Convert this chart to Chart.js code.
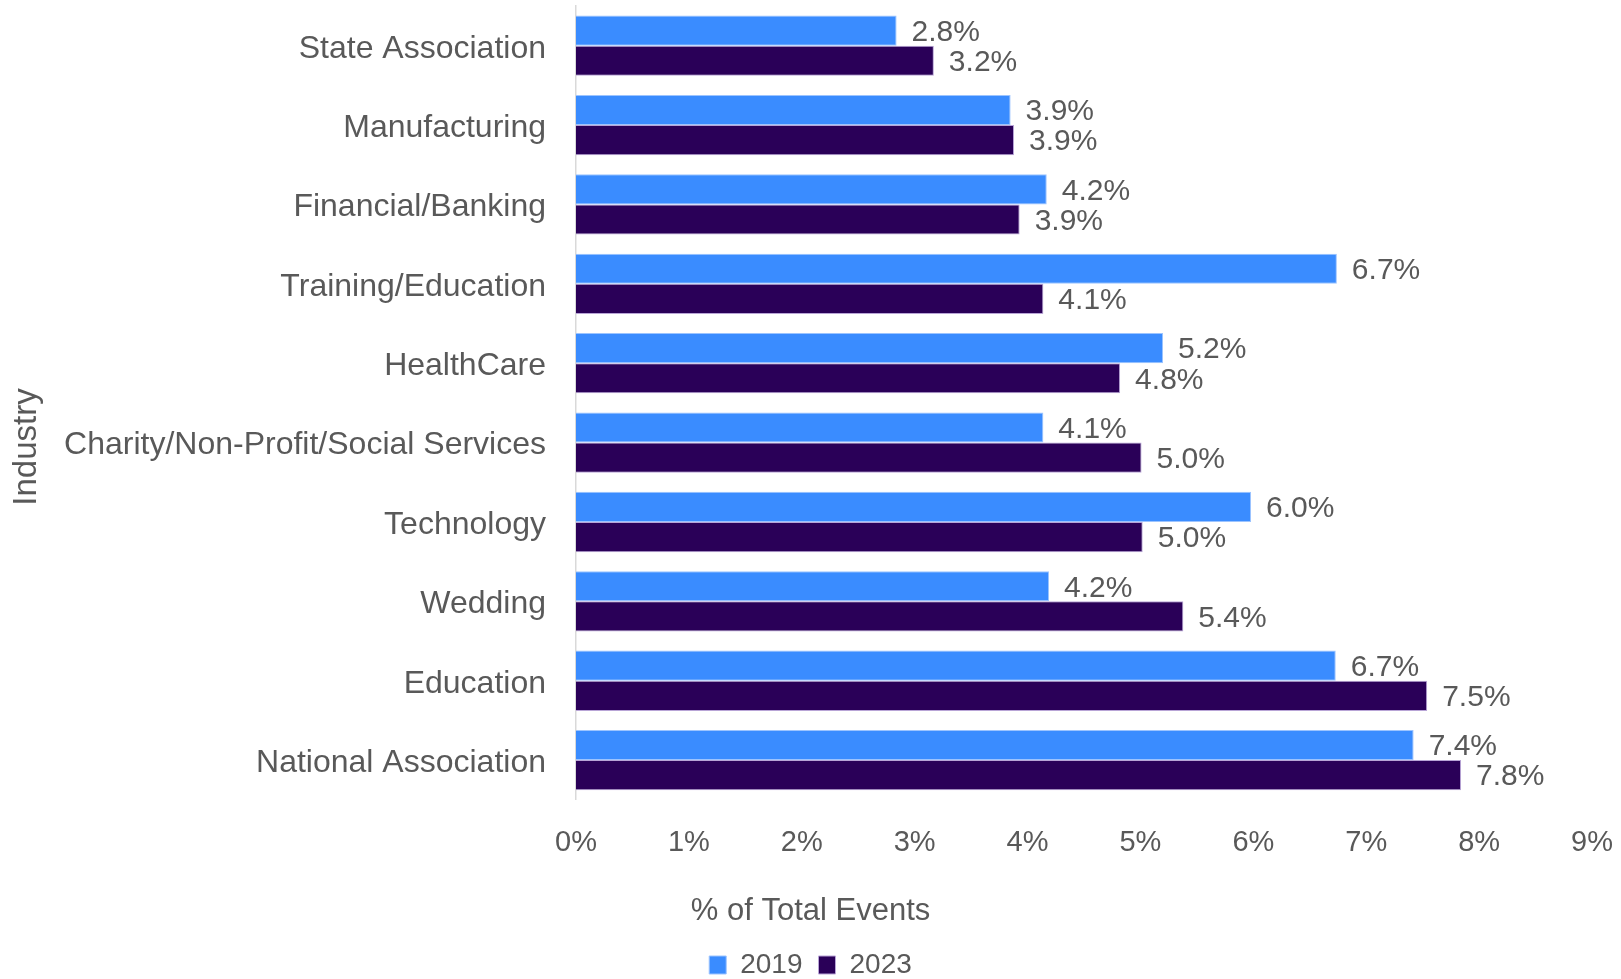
<!DOCTYPE html>
<html>
<head>
<meta charset="utf-8">
<title>Share of total events by industry</title>
<script src="https://cdn.jsdelivr.net/npm/chart.js@4/dist/chart.umd.min.js"></script>
<style>
  html, body { margin: 0; padding: 0; background: #fff; }
</style>
</head>
<body>
<canvas id="chart" width="1621" height="979"></canvas>
<script>
/* =============== Data =============== */
const industries = [
  "State Association",
  "Manufacturing",
  "Financial/Banking",
  "Training/Education",
  "HealthCare",
  "Charity/Non-Profit/Social Services",
  "Technology",
  "Wedding",
  "Education",
  "National Association"
];
// the labels show them rounded to 0.1
const share2019 = [2.84, 3.85, 4.17, 6.74, 5.20, 4.14, 5.98, 4.19, 6.73, 7.42];
const share2023 = [3.17, 3.88, 3.93, 4.14, 4.82, 5.01, 5.02, 5.38, 7.54, 7.84];
const seriesLabels = ["2019", "2023"];
const xMax = 9;

/* =============== Look =============== */
const FONT = "'Liberation Sans', Arial, sans-serif";
const TEXT = "#595959";

/* value labels at the bar ends */
const barLabels = {
  id: "barLabels",
  afterDatasetsDraw(chart) {
    const ctx = chart.ctx;
    ctx.save();
    ctx.font = "30px " + FONT;
    ctx.fillStyle = TEXT;
    ctx.textAlign = "left";
    ctx.textBaseline = "middle";
    chart.data.datasets.forEach((ds, i) => {
      chart.getDatasetMeta(i).data.forEach((bar, j) => {
        ctx.fillText(ds.data[j].toFixed(1) + "%", bar.x + 15, bar.y + 2);
      });
    });
    ctx.restore();
  }
};

/* "Industry" sits lower than the plot centre in the original */
const sideTitle = {
  id: "sideTitle",
  afterDraw(chart) {
    const ctx = chart.ctx;
    ctx.save();
    ctx.translate(27, 447);
    ctx.rotate(-Math.PI / 2);
    ctx.font = "33px " + FONT;
    ctx.fillStyle = TEXT;
    ctx.textAlign = "center";
    ctx.textBaseline = "middle";
    ctx.fillText("Industry", 0, 0);
    ctx.restore();
  }
};

Chart.defaults.font.family = FONT;
Chart.defaults.color = TEXT;

new Chart(document.getElementById("chart"), {
  type: "bar",
  data: {
    labels: industries,
    datasets: [
      {
        label: seriesLabels[0],
        data: share2019,
        backgroundColor: "#3a8cff",
        borderColor: "#9cc4ff",
        borderWidth: 1
      },
      {
        label: seriesLabels[1],
        data: share2023,
        backgroundColor: "#2a0058",
        borderColor: "#b8a4d6",
        borderWidth: 1
      }
    ]
  },
  options: {
    indexAxis: "y",
    responsive: false,
    animation: false,
    categoryPercentage: 0.76,
    barPercentage: 1,
    layout: { padding: { top: 6, right: 0, left: 0, bottom: -10 } },
    scales: {
      x: {
        min: 0,
        max: xMax,
        grid: { display: false },
        border: { display: false },
        ticks: {
          stepSize: 1,
          padding: 18,
          font: { size: 29 },
          color: TEXT,
          callback: (v) => v + "%"
        },
        afterFit(scale) {
          // title and legend span the whole width, the plot stops short of the right edge
          scale.height = 93;
          scale.paddingLeft = 0;
          scale.paddingRight = 29;
        }
      },
      y: {
        grid: { display: false, drawTicks: false },
        border: { display: true, color: "#d9d9d9", width: 1.5 },
        ticks: { padding: 30, labelOffset: 3, font: { size: 32 }, color: TEXT },
        afterFit(scale) {
          scale.width = 576;
          scale.paddingTop = 0;
          scale.paddingBottom = 0;
        }
      }
    },
    plugins: {
      legend: {
        position: "bottom",
        weight: 1000,
        labels: {
          boxWidth: 17,
          boxHeight: 18,
          padding: 16,
          font: { size: 28 },
          color: TEXT
        }
      },
      title: {
        display: true,
        text: "% of Total Events",
        position: "bottom",
        weight: 500,
        padding: { top: 0, bottom: 5 },
        font: { size: 31, weight: "normal" },
        color: TEXT
      },
      tooltip: { enabled: false }
    }
  },
  plugins: [barLabels, sideTitle]
});
</script>
</body>
</html>
